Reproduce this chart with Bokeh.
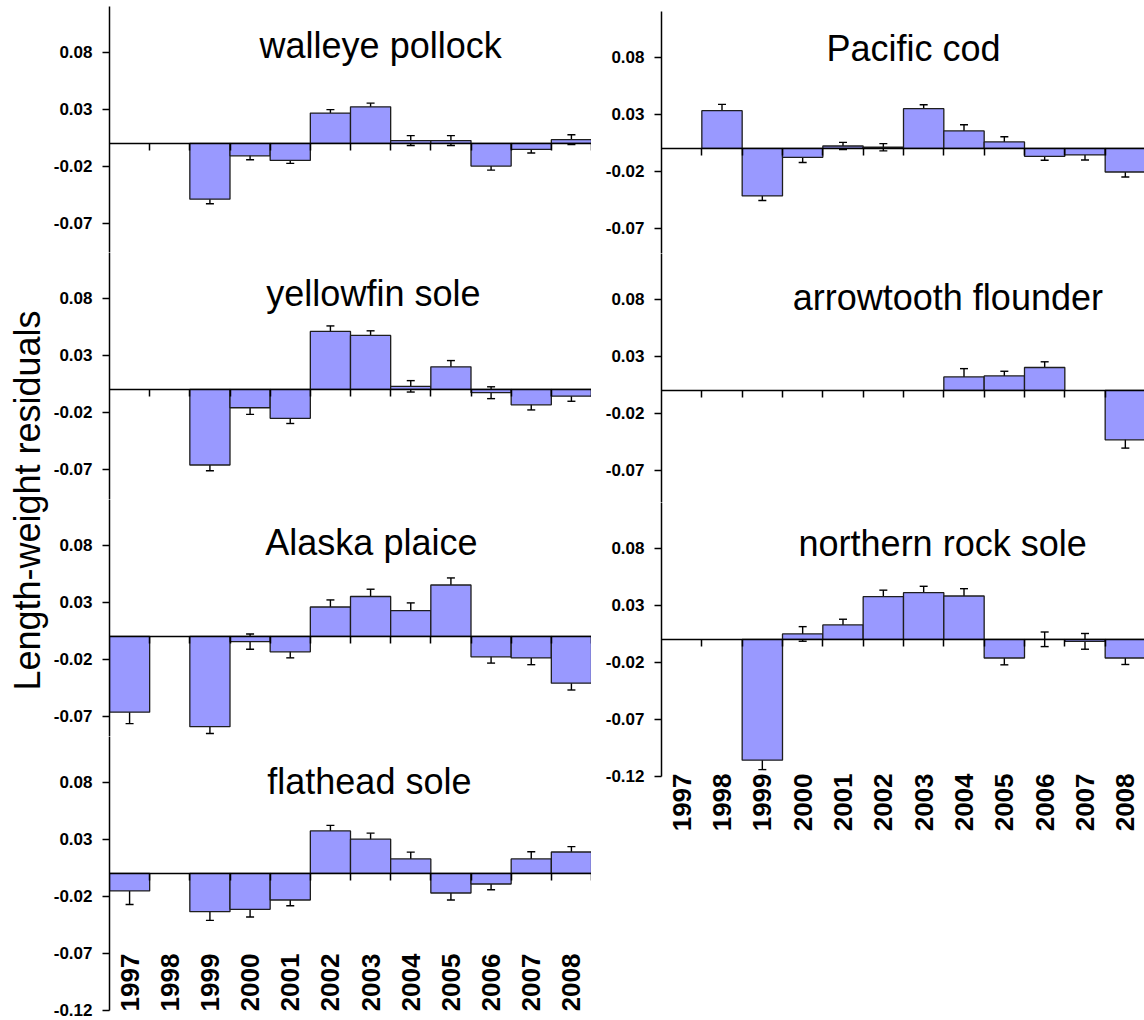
import math

from bokeh.embed import file_html
from bokeh.layouts import column, row
from bokeh.models import (ColumnDataSource, FixedTicker, Label, LinearAxis,
                          PrintfTickFormatter, Range1d, TeeHead, Whisker)
from bokeh.plotting import figure
from bokeh.resources import INLINE

# ---------------------------------------------------------------- data
years = [1997, 1998, 1999, 2000, 2001, 2002, 2003, 2004, 2005, 2006, 2007, 2008]

pollock = [None, None, -0.049, -0.011, -0.015, 0.0265, 0.032, 0.0024, 0.0024, -0.020, -0.0053, 0.0032]
pollock_se = [None, None, 0.004, 0.0034, 0.0026, 0.003, 0.0032, 0.0043, 0.0043, 0.0035, 0.0032, 0.0043]

cod = [None, 0.033, -0.0418, -0.0079, 0.002, 0.0009, 0.0348, 0.0152, 0.0056, -0.007, -0.0058, -0.0208]
cod_se = [None, 0.0055, 0.004, 0.0045, 0.0032, 0.0032, 0.0034, 0.0055, 0.0045, 0.0035, 0.0044, 0.0044]

yellowfin = [None, None, -0.0664, -0.0162, -0.0255, 0.0508, 0.0473, 0.0026, 0.0197, -0.003, -0.0136, -0.006]
yellowfin_se = [None, None, 0.005, 0.0058, 0.0045, 0.0048, 0.004, 0.005, 0.0055, 0.0052, 0.0045, 0.0045]

arrowtooth = [None, None, None, None, None, None, None, 0.0117, 0.0126, 0.020, None, -0.0434]
arrowtooth_se = [None, None, None, None, None, None, None, 0.0073, 0.0041, 0.005, None, 0.0073]

plaice = [-0.0666, None, -0.0793, -0.0047, -0.0136, 0.0257, 0.0349, 0.0225, 0.045, -0.018, -0.019, -0.0411]
plaice_se = [0.010, None, 0.006, 0.0067, 0.0053, 0.0062, 0.0064, 0.0068, 0.0062, 0.0055, 0.0059, 0.006]

rock_sole = [None, None, -0.106, 0.0047, 0.0126, 0.0374, 0.0409, 0.038, -0.0164, 0.0, -0.0018, -0.0164]
rock_sole_se = [None, None, 0.0083, 0.0064, 0.005, 0.0057, 0.0056, 0.0064, 0.006, 0.0064, 0.0069, 0.0057]

flathead = [-0.0155, None, -0.0337, -0.0316, -0.0234, 0.0372, 0.0299, 0.0126, -0.0173, -0.0094, 0.0126, 0.0187]
flathead_se = [0.0119, None, 0.0076, 0.0067, 0.005, 0.0048, 0.0053, 0.006, 0.0061, 0.005, 0.0063, 0.0047]

y_ticks = [-0.12, -0.07, -0.02, 0.03, 0.08]
y_title = "Length-weight residuals"

# ---------------------------------------------------------------- style
FONT = "Liberation Sans"
BAR_FILL = "#9999FF"
BAR_LINE = "#1e1e1e"
PX_PER_UNIT = 1140          # vertical scale shared by all panels
Y_TOP = 0.12
Y_MIN = -0.12


def panel(name, vals, errs, frame_w, frame_h, border_left, border_top,
          border_bottom, title_xy, year_axis_at=None):
    y_bottom = Y_TOP - frame_h / PX_PER_UNIT
    p = figure(frame_width=frame_w, frame_height=frame_h,
               x_range=Range1d(years[0] - 0.5, years[-1] + 0.5),
               y_range=Range1d(y_bottom, Y_TOP),
               output_backend="svg", toolbar_location=None,
               min_border_left=border_left, min_border_right=0,
               min_border_top=border_top, min_border_bottom=border_bottom)
    p.outline_line_color = None
    p.xgrid.visible = False
    p.ygrid.visible = False
    p.background_fill_color = "white"
    p.border_fill_color = "white"

    xs = [yr for yr, v in zip(years, vals) if v is not None]
    vs = [v for v in vals if v is not None]
    es = [e for v, e in zip(vals, errs) if v is not None]
    src = ColumnDataSource(dict(
        x=xs, top=vs,
        upper=[v + e for v, e in zip(vs, es)],
        lower=[v - e for v, e in zip(vs, es)],
    ))
    p.vbar(x="x", top="top", bottom=0, width=1.0, source=src,
           fill_color=BAR_FILL, line_color=BAR_LINE, line_width=1.3)
    p.add_layout(Whisker(source=src, base="x", upper="upper", lower="lower",
                         line_color="black", line_width=1.4,
                         upper_head=TeeHead(size=8, line_color="black", line_width=1.4),
                         lower_head=TeeHead(size=8, line_color="black", line_width=1.4)))

    # value axis (line limited to the -0.12 .. 0.12 span)
    ya = p.yaxis[0]
    ya.bounds = (max(Y_MIN, y_bottom), Y_TOP)
    ya.ticker = FixedTicker(ticks=y_ticks)
    ya.formatter = PrintfTickFormatter(format="%.2f")
    ya.major_label_text_font = FONT
    ya.major_label_text_font_size = "17px"
    ya.major_label_text_font_style = "bold"
    ya.major_label_text_color = "black"
    ya.major_tick_out = 7
    ya.major_tick_in = 0
    ya.minor_tick_out = 0
    ya.minor_tick_in = 0
    ya.major_label_standoff = 10
    ya.axis_line_width = 1.5
    ya.major_tick_line_width = 1.5
    ya.axis_line_color = "black"

    # category axis running along zero, ticks at category boundaries
    xa = p.xaxis[0]
    xa.fixed_location = 0
    xa.ticker = FixedTicker(ticks=[yr + 0.5 for yr in years])
    xa.major_label_text_color = None
    xa.major_tick_out = 7
    xa.major_tick_in = 0
    xa.minor_tick_out = 0
    xa.minor_tick_in = 0
    xa.axis_line_width = 1.5
    xa.major_tick_line_width = 1.5
    xa.axis_line_color = "black"

    if year_axis_at is not None:
        ax = LinearAxis(fixed_location=year_axis_at,
                        ticker=FixedTicker(ticks=years),
                        major_label_orientation=math.pi / 2,
                        axis_line_color=None, major_tick_line_color=None,
                        minor_tick_line_color=None,
                        major_tick_out=0, major_tick_in=0,
                        minor_tick_out=0, minor_tick_in=0,
                        major_label_standoff=0,
                        major_label_text_font=FONT,
                        major_label_text_font_size="26px",
                        major_label_text_font_style="bold",
                        major_label_text_color="black")
        p.add_layout(ax, "below")

    p.add_layout(Label(x=title_xy[0], y=title_xy[1], text=name,
                       text_align="center", text_baseline="alphabetic",
                       text_font=FONT, text_font_size="36px",
                       text_color="black"))
    return p


LEFT_W, RIGHT_W = 482, 484
LABEL_W = 50

left = column(
    panel("walleye pollock", pollock, pollock_se, LEFT_W, 246, 108 - LABEL_W, 6, 0, (2003.25, 0.0858)),
    panel("yellowfin sole", yellowfin, yellowfin_se, LEFT_W, 247, 108 - LABEL_W, 0, 0, (2003.07, 0.0843)),
    panel("Alaska plaice", plaice, plaice_se, LEFT_W, 237, 108 - LABEL_W, 0, 0, (2003.02, 0.0825)),
    panel("flathead sole", flathead, flathead_se, LEFT_W, 274, 108 - LABEL_W, 0, 10, (2002.97, 0.0808),
          year_axis_at=-0.0704),
    spacing=0,
)

right = column(
    panel("Pacific cod", cod, cod_se, RIGHT_W, 242, 70, 11, 0, (2002.75, 0.0873)),
    panel("arrowtooth flounder", arrowtooth, arrowtooth_se, RIGHT_W, 249, 70, 0, 0, (2003.6, 0.0817)),
    panel("northern rock sole", rock_sole, rock_sole_se, RIGHT_W, 334, 70, 0, 0, (2003.47, 0.0838),
          year_axis_at=-0.1177),
    spacing=0,
)

# shared vertical title for the left-hand panels
LABEL_H = 1019
lab = figure(frame_width=LABEL_W, frame_height=LABEL_H,
             x_range=Range1d(0, LABEL_W), y_range=Range1d(0, LABEL_H),
             x_axis_location=None, y_axis_location=None,
             output_backend="svg", toolbar_location=None, min_border=0)
lab.outline_line_color = None
lab.xgrid.visible = False
lab.ygrid.visible = False
lab.add_layout(Label(x=27, y=LABEL_H - 500, text=y_title, angle=math.pi / 2,
                     text_align="center", text_baseline="middle",
                     text_font=FONT, text_font_size="36px", text_color="black"))

layout = row(lab, left, right, spacing=0)

open("out.html", "w").write(file_html(layout, INLINE))
